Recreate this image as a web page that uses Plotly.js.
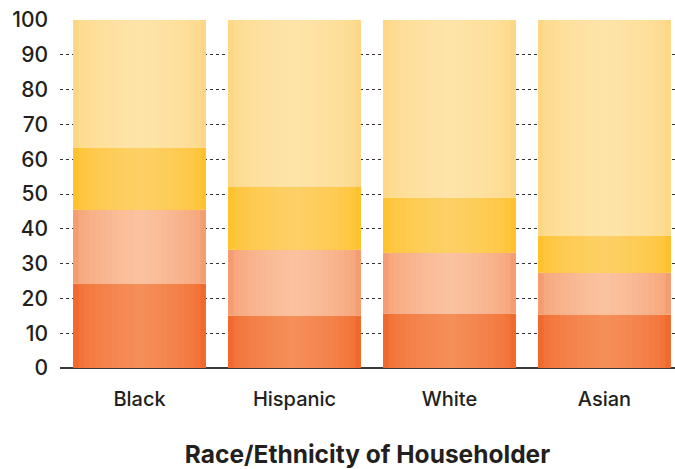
<!DOCTYPE html>
<html>
<head>
<meta charset="utf-8">
<script src="https://cdn.plot.ly/plotly-3.0.1.min.js"></script>
<style>html,body{margin:0;padding:0;background:#fff;}#chart{width:675px;height:469px;}</style>
</head>
<body>
<div id="chart"></div>
<script>
const categories = ["Black", "Hispanic", "White", "Asian"];
const seg1 = [24.2, 15.0, 15.6, 15.3];
const seg2 = [21.3, 19.0, 17.5, 12.1];
const seg3 = [17.8, 18.0, 15.8, 10.6];
const seg4 = [36.7, 48.0, 51.1, 62.0];
const yTicks = [0, 10, 20, 30, 40, 50, 60, 70, 80, 90, 100];

// edge and centre colours of the shaded segments
const edgeColors = ["#F2692D", "#F59D70", "#FFC22C", "#FDD785"];
const centerColors = ["#F58E58", "#FAC29F", "#FDD066", "#FEE4A9"];
const segs = [seg1, seg2, seg3, seg4];

function hex2rgb(h) { return [1, 3, 5].map(i => parseInt(h.substr(i, 2), 16)); }
function lerpColor(a, b, t) {
  const A = hex2rgb(a), B = hex2rgb(b);
  return "rgb(" + A.map((v, i) => Math.round(v + (B[i] - v) * t)).join(",") + ")";
}

const BAR_W = 0.858;
const STEPS = 12;
const traces = [];
let base = categories.map(() => 0);
segs.forEach((s, k) => {
  for (let j = 0; j < STEPS; j++) {
    const t = j / (STEPS - 1);
    traces.push({
      type: "bar",
      x: categories,
      y: s,
      base: base.slice(),
      width: BAR_W * (1 - j / STEPS),
      marker: { color: lerpColor(edgeColors[k], centerColors[k], Math.sqrt(t)), line: { width: 0 } },
      hoverinfo: "skip",
      showlegend: false
    });
  }
  base = base.map((b, i) => b + s[i]);
});

const layout = {
  width: 675, height: 469,
  margin: { l: 60, r: 0, t: 20, b: 100.7 },
  paper_bgcolor: "#fff", plot_bgcolor: "#fff",
  barmode: "overlay",
  font: { family: "Inter, Lato, sans-serif", color: "#231f20" },
  xaxis: {
    range: [-0.513, 3.455],
    showgrid: false,
    showline: false,
    zeroline: false,
    ticks: "",
    ticklabelstandoff: 17,
    tickfont: { size: 20, color: "#231f20", weight: 500 },
    title: { text: "<b>Race/Ethnicity of Householder</b>", font: { size: 24.5, color: "#231f20" }, standoff: 48 }
  },
  yaxis: {
    range: [0, 100],
    tickvals: yTicks,
    ticktext: yTicks.map(String),
    showgrid: true,
    gridcolor: "#333",
    griddash: "dot",
    gridwidth: 1,
    zeroline: true,
    zerolinecolor: "#3a3a3a",
    zerolinewidth: 2,
    showline: false,
    ticks: "",
    ticklabelstandoff: 11,
    tickfont: { size: 21, color: "#231f20", weight: 500 }
  }
};

Plotly.newPlot("chart", traces, layout, { staticPlot: true, displayModeBar: false });
</script>
</body>
</html>
